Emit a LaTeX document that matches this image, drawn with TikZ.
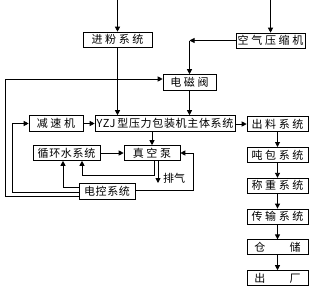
\documentclass[tikz,border=0pt]{standalone}
\usepackage{fontspec}
\setmainfont{Noto Sans CJK SC}
\usetikzlibrary{positioning,arrows.meta}

\tikzset{
  box/.style={draw, line width=.6pt, inner sep=1pt, minimum height=15pt,
    font=\fontsize{11}{12}\selectfont\addfontfeature{LetterSpace=6}},
  wbox/.style={box, font=\fontsize{11}{12}\selectfont\addfontfeature{LetterSpace=24}},
  rbox/.style={wbox, minimum width=61pt},
  flow/.style={->, line width=.9pt},
}

\begin{document}
\begin{tikzpicture}[
  x=1pt, y=-1pt,
  >={Triangle[length=5pt,width=5pt]}
]
\useasboundingbox (0,0) rectangle (320,289);

% 上部：进粉、空压、电磁阀
\node[wbox, minimum width=69pt] (jinfen) at (117.5,39.5) {进粉系统};
\node[wbox, minimum width=69pt] (kongya) at (270.5,40.5) {空气压缩机};
\node[wbox, minimum width=53pt, minimum height=16pt] (dcf) at (189.5,82.5) {电磁阀};

% 中部：主体系统及附属
\node[wbox, minimum width=54pt, minimum height=16pt] (jiansu) at (56,123.5) {减速机};
\node[box, minimum width=140pt, minimum height=16pt] (zhuti) at (165,123.5)
  {YZJ\,型压力包装机主体系统};
\node[box, minimum width=67pt] (xunhuan) at (66.5,153) {循环水系统};
\node[wbox, minimum width=56pt] (zhenkong) at (152,153) {真空泵};
\node[box, minimum width=56pt, minimum height=16pt] (diankong) at (107,191) {电控系统};
\node[font=\fontsize{11}{12}\selectfont] (paiqi) at (174,178) {排气};

% 右列：出料流程
\node[rbox] (chuliao) at (277.5,124) {出料系统};
\node[rbox, below=15.2pt of chuliao] (dunbao) {吨包系统};
\node[rbox, below=15.2pt of dunbao] (chengzhong) {称重系统};
\node[rbox, below=15.2pt of chengzhong] (chuanshu) {传输系统};
\node[rbox, below=15.2pt of chuanshu] (cangchu) {仓\hspace{2.2em}储};
\node[rbox, below=15.2pt of cangchu] (chuchang) {出\hspace{2.2em}厂};

% 输入
\coordinate (in1) at (117.5,0);
\coordinate (in2) at (270.5,0);
\draw[flow] (in1) -- (jinfen);
\draw[flow] (in2) -- (kongya);

% 进粉、电磁阀 -> 主体
\draw[flow] (jinfen.south) -- (jinfen.south |- zhuti.north);
\coordinate (guai) at (dcf.north |- kongya.west);
\draw[flow] (kongya.west) -- (guai);
\draw[flow] (guai) -- (dcf.north);
\draw[flow] (dcf.south) -- (dcf.south |- zhuti.north);
\draw[flow] (jiansu) -- (zhuti);
\draw[flow] (zhuti.east |- chuliao) -- (chuliao.west);

% 真空泵、循环水
\draw[flow] (zhenkong.north |- zhuti.south) -- (zhenkong.north);
\draw[flow] (xunhuan) -- (zhenkong);
\draw[flow] ([xshift=2pt]zhenkong.south) -- ++(0,14.5)
  -| ([xshift=15.5pt]xunhuan.south);
\coordinate (pq) at (158,183);
\draw[flow] (zhenkong.south -| pq) -- (pq);

% 电控系统
\draw[flow] (diankong.west |- 0,187) -| ([xshift=-3.5pt]xunhuan.south);
\draw[flow] (diankong.east |- 0,190.5) -- (193,190.5) |- (zhenkong.east);
\draw[flow] (diankong.west |- 0,192.5) -- (12,192.5) |- (jiansu.west);
\draw[flow] (diankong.west |- 0,196.5) -- (5,196.5) |- (dcf.west |- 0,79);

% 右列箭头
\foreach \a/\b in {chuliao/dunbao, dunbao/chengzhong, chengzhong/chuanshu,
                   chuanshu/cangchu, cangchu/chuchang}
  \draw[flow] (\a) -- (\b);

\end{tikzpicture}
\end{document}
